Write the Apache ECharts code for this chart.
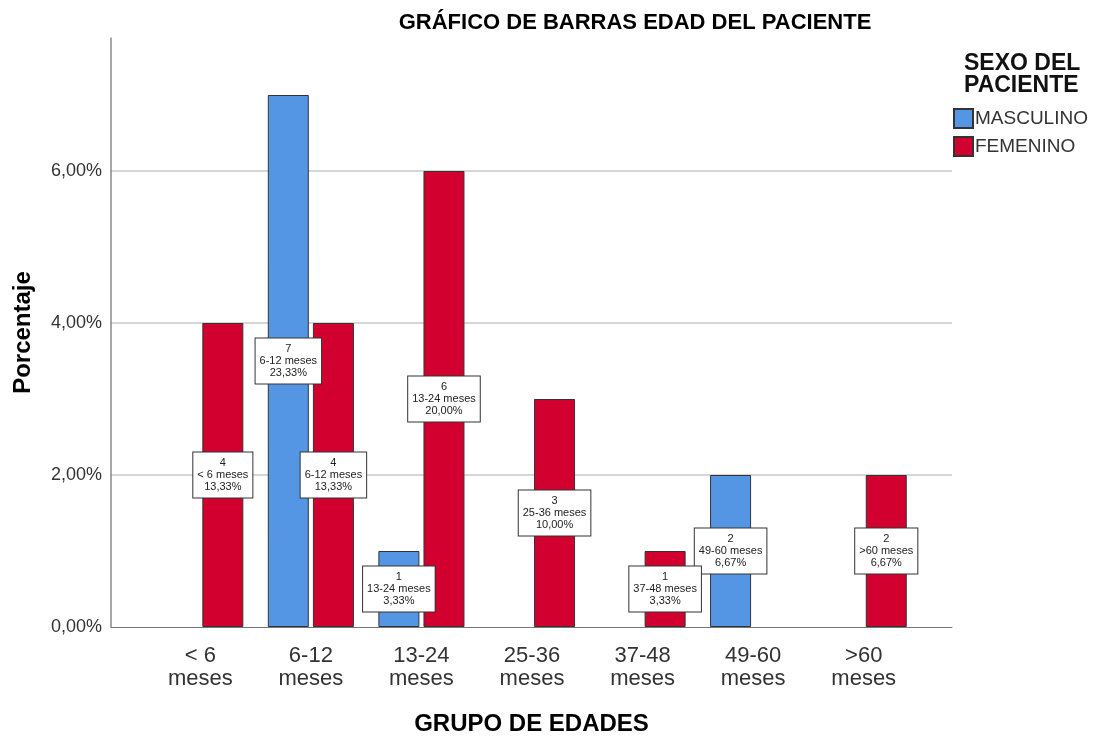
<!DOCTYPE html>
<html>
<head>
<meta charset="utf-8">
<script src="https://cdn.jsdelivr.net/npm/echarts@6/dist/echarts.min.js"></script>
<style>
  html, body { margin: 0; padding: 0; background: #fff; }
  #chart { width: 1094px; height: 738px; }
</style>
</head>
<body>
<div id="chart"></div>
<script>
// ===== datos =====
const categories = ["< 6\nmeses", "6-12\nmeses", "13-24\nmeses", "25-36\nmeses", "37-48\nmeses", "49-60\nmeses", ">60\nmeses"];
const boxNames = ["< 6 meses", "6-12 meses", "13-24 meses", "25-36 meses", "37-48 meses", "49-60 meses", ">60 meses"];
const masculino = [null, 7, 1, null, null, 2, null];
const femenino = [4, 4, 6, 3, 1, null, 2];
const masculinoPct = [null, "23,33%", "3,33%", null, null, "6,67%", null];
const femeninoPct = ["13,33%", "13,33%", "20,00%", "10,00%", "3,33%", null, "6,67%"];
const yMax = 7.75;

const FONT = "Liberation Sans, Arial, sans-serif";

const chart = echarts.init(document.getElementById("chart"));

// etiqueta tipo caja (valor / grupo / porcentaje)
const boxLabel = (pcts) => ({
  show: true,
  position: "inside",
  formatter: (p) => `${p.value}\n${boxNames[p.dataIndex]}\n${pcts[p.dataIndex]}`,
  fontFamily: FONT,
  fontSize: 11,
  lineHeight: 12,
  color: "#222",
  backgroundColor: "#fff",
  borderColor: "#333",
  borderWidth: 1,
  padding: [5, 4, 4, 4]
});

chart.setOption({
  animation: false,
  textStyle: { fontFamily: FONT },
  title: [
    {
      text: "GRÁFICO DE BARRAS EDAD DEL PACIENTE",
      left: 630,
      top: 7,
      textAlign: "center",
      textStyle: { fontSize: 22, fontWeight: "bold", color: "#000", fontFamily: FONT }
    },
    {
      text: "SEXO DEL\nPACIENTE",
      left: 959,
      top: 48,
      textStyle: { fontSize: 23, fontWeight: "bold", color: "#111", lineHeight: 22, fontFamily: FONT }
    }
  ],
  legend: {
    orient: "vertical",
    left: 953,
    top: 108,
    padding: 0,
    itemWidth: 19,
    itemHeight: 19,
    itemGap: 7,
    icon: "rect",
    textStyle: { fontSize: 19, color: "#333", padding: [0, 0, 0, -3], fontFamily: FONT },
    data: ["MASCULINO", "FEMENINO"]
  },
  grid: [
    // barras
    { left: 145, right: 175, top: 38, bottom: 111, outerBoundsMode: "none" },
    // fondo: ejes y líneas de cuadrícula
    { left: 111, right: 142, top: 38, bottom: 111, outerBoundsMode: "none" }
  ],
  xAxis: [
    {
      type: "category",
      gridIndex: 0,
      data: categories,
      axisLine: { show: false },
      axisTick: { show: false },
      axisLabel: { fontSize: 22, lineHeight: 23, color: "#333", margin: 17, fontFamily: FONT, interval: 0 }
    },
    {
      type: "value",
      gridIndex: 1,
      min: 0,
      max: 1,
      axisLabel: { show: false },
      axisTick: { show: false },
      splitLine: { show: false },
      axisLine: { show: true, lineStyle: { color: "#777", width: 1 } },
      name: "GRUPO DE EDADES",
      nameLocation: "middle",
      nameGap: 85,
      nameTextStyle: { fontSize: 24, fontWeight: "bold", color: "#000", fontFamily: FONT }
    }
  ],
  yAxis: [
    { type: "value", gridIndex: 0, min: 0, max: yMax, show: false },
    {
      type: "value",
      gridIndex: 1,
      min: 0,
      max: yMax,
      interval: 2,
      axisLine: { show: true, lineStyle: { color: "#888", width: 1.5 } },
      axisTick: { show: false },
      axisLabel: {
        fontSize: 18,
        color: "#333",
        margin: 9,
        showMaxLabel: false,
        fontFamily: FONT,
        formatter: (v) => v.toFixed(2).replace(".", ",") + "%"
      },
      splitLine: { show: true, showMaxLine: false, showMinLine: false, lineStyle: { color: "#d6d6d6", width: 2 } },
      name: "Porcentaje",
      nameLocation: "middle",
      nameGap: 76,
      nameTextStyle: { fontSize: 24, fontWeight: "bold", color: "#000", fontFamily: FONT }
    }
  ],
  series: [
    {
      name: "MASCULINO",
      type: "bar",
      xAxisIndex: 0,
      yAxisIndex: 0,
      data: masculino,
      barWidth: 41,
      barGap: "10%",
      itemStyle: { color: "#5596e4", borderColor: "#333", borderWidth: 1 },
      label: boxLabel(masculinoPct)
    },
    {
      name: "FEMENINO",
      type: "bar",
      xAxisIndex: 0,
      yAxisIndex: 0,
      data: femenino,
      barWidth: 41,
      barGap: "10%",
      itemStyle: { color: "#d2002e", borderColor: "#333", borderWidth: 1 },
      label: boxLabel(femeninoPct)
    }
  ]
});
</script>
</body>
</html>
